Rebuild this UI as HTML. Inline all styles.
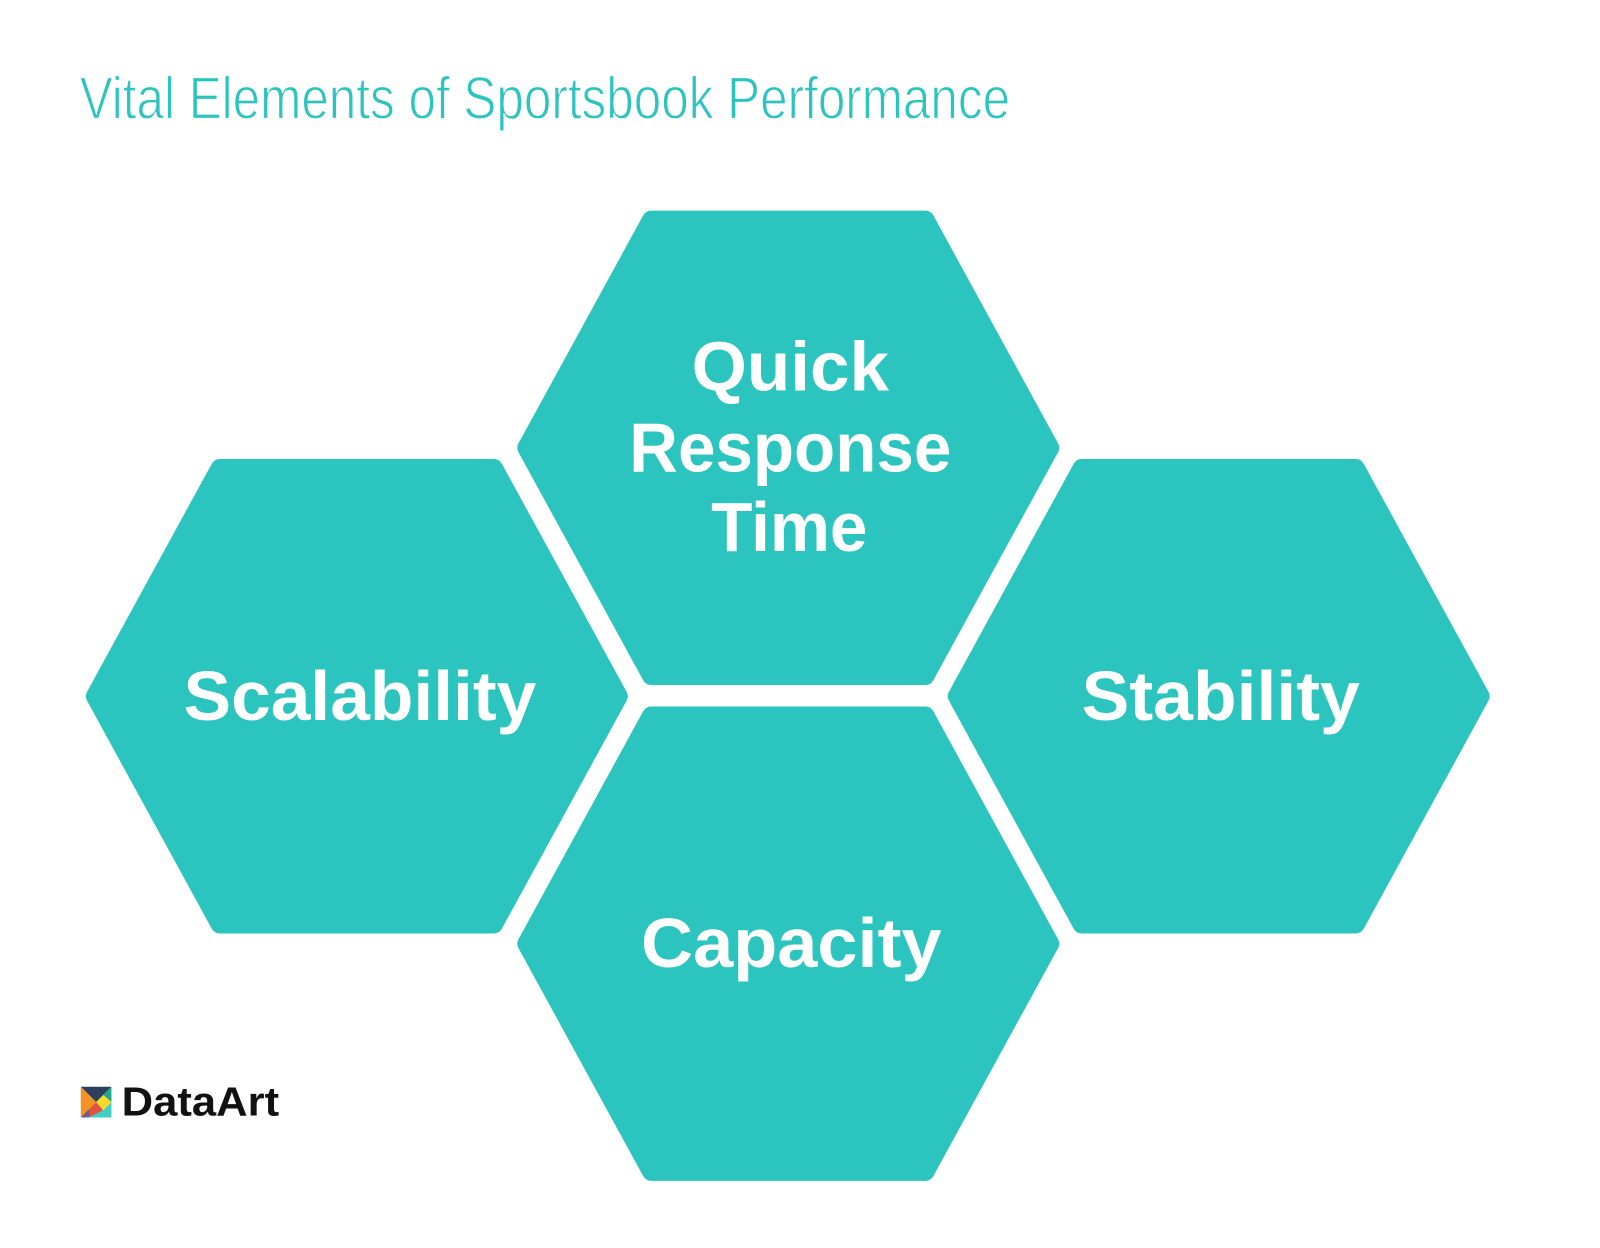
<!DOCTYPE html>
<html><head><meta charset="utf-8"><style>
html,body{margin:0;padding:0;background:#fff;width:1600px;height:1248px;overflow:hidden}
</style></head><body>
<svg width="1600" height="1248" viewBox="0 0 1600 1248" xmlns="http://www.w3.org/2000/svg">
<g transform="scale(1.0224)">
<g fill="#2BC4BE" stroke="#2BC4BE" stroke-width="18" stroke-linejoin="round">
<polygon points="637,215 905,215 1027,438 905,661 637,661 515,438"/>
<polygon points="215,458 483,458 605,681 483,904 215,904 93,681"/>
<polygon points="1058,458 1326,458 1448,681 1326,904 1058,904 936,681"/>
<polygon points="637,700 905,700 1027,923 905,1146 637,1146 515,923"/>
</g>
<g font-family="Liberation Sans, sans-serif" font-weight="bold" font-size="68" fill="#fff" text-anchor="middle">
<text x="773" y="382" textLength="193" lengthAdjust="spacingAndGlyphs">Quick</text>
<text x="773" y="461" textLength="315" lengthAdjust="spacingAndGlyphs">Response</text>
<text x="772" y="539" textLength="153" lengthAdjust="spacingAndGlyphs">Time</text>
<text x="352" y="704" textLength="345" lengthAdjust="spacingAndGlyphs">Scalability</text>
<text x="1194" y="704" textLength="272" lengthAdjust="spacingAndGlyphs">Stability</text>
<text x="774" y="946" textLength="294" lengthAdjust="spacingAndGlyphs">Capacity</text>
</g>
<text x="78" y="116" font-family="Liberation Sans, sans-serif" font-size="58" fill="#2BC4BE" textLength="910" lengthAdjust="spacingAndGlyphs" stroke="#fff" stroke-width="1.2">Vital Elements of Sportsbook Performance</text>
<g transform="translate(79,1063)">
<polygon points="0,0 30,0 15,15" fill="#2F3E5C"/>
<polygon points="0,0 15,15 0,30" fill="#F39323"/>
<polygon points="30,0 30,15 22,8" fill="#1BAA8E"/>
<polygon points="15,15 22,8 30,15 22,23" fill="#FADA26"/>
<polygon points="15,15 22,23 8,30 0,30 8,22" fill="#E2533F"/>
<polygon points="22,23 30,15 30,30 8,30" fill="#3ECFC7"/>
<polygon points="0,30 8,22 8,30" fill="#6B5A8C"/>
</g>
<text x="119" y="1091" font-family="Liberation Sans, sans-serif" font-weight="bold" font-size="40" fill="#111" textLength="154" lengthAdjust="spacingAndGlyphs">DataArt</text>
</g>
</svg>
</body></html>
